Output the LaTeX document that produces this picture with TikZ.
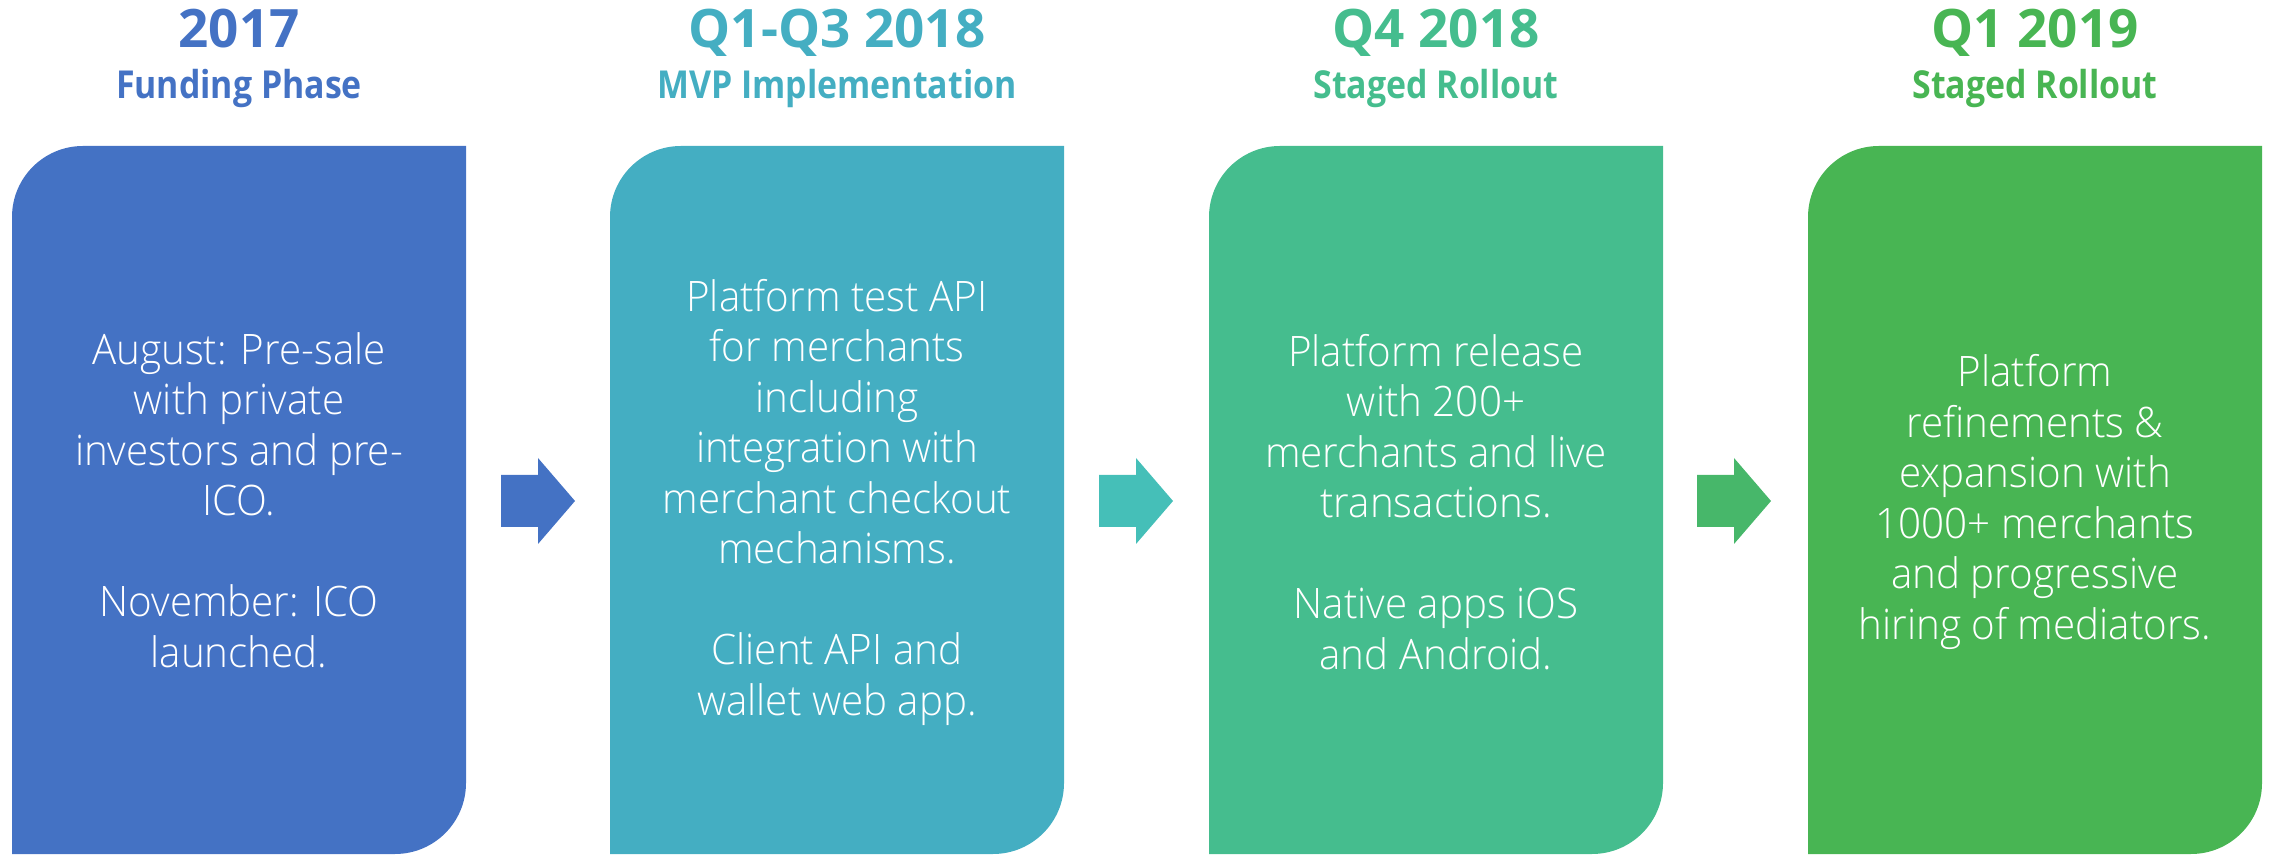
\documentclass[tikz,border=0pt]{standalone}
\usepackage{fontspec}
\setmainfont{Open Sans}
\newfontfamily\bodyfont{Open Sans}[UprightFont=* Light, FakeStretch=0.96]
\newfontfamily\yearfont{Open Sans}
\newfontfamily\subfont{Open Sans}[FakeStretch=0.88]
\definecolor{cA}{HTML}{4472C4}
\definecolor{cB}{HTML}{44AEC2}
\definecolor{cC}{HTML}{45BD8E}
\definecolor{cD}{HTML}{48B553}
\definecolor{aB}{HTML}{45BFB8}
\definecolor{aC}{HTML}{47B76A}
\tikzset{
  year/.style={font=\yearfont\bfseries\fontsize{53}{60}\selectfont, anchor=base, inner sep=0pt},
  sub/.style={font=\subfont\bfseries\fontsize{38.5}{44}\selectfont, anchor=base, inner sep=0pt},
  body/.style={font=\bodyfont\fontsize{42}{50.5}\selectfont, text=white, align=center, inner sep=0pt, anchor=center}
}
\begin{document}
\begin{tikzpicture}[x=1pt,y=1pt]
\useasboundingbox (0,0) rectangle (2272,854);
% boxes
\foreach \x/\c in {12/cA,610/cB,1209/cC,1808/cD}{
  \fill[\c] (\x,0) -- (\x,637) arc[start angle=180,end angle=90,radius=71]
    -- ({\x+454},708) -- ({\x+454},71) arc[start angle=0,end angle=-90,radius=71] -- cycle;
}
% block arrows
\foreach \x/\c in {501/cA,1099/aB,1697/aC}{
  \fill[\c] (\x,379) -- ({\x+37},379) -- ({\x+37},396) -- ({\x+74},353)
    -- ({\x+37},310) -- ({\x+37},327) -- (\x,327) -- cycle;
}
% headings
\node[year, text=cA] (h1) at (239,806) {2017};
\node[sub, text=cA] (s1) at (239,755) {Funding Phase};
\node[year, text=cB] (h2) at (837,806) {Q1-Q3 2018};
\node[sub, text=cB] (s2) at (837,755) {MVP Implementation};
\node[year, text=cC] (h3) at (1436,806) {Q4 2018};
\node[sub, text=cC] (s3) at (1436,755) {Staged Rollout};
\node[year, text=cD] (h4) at (2035,806) {Q1 2019};
\node[sub, text=cD] (s4) at (2035,755) {Staged Rollout};
% body texts
\node[body] (t1) at (239,354) {August: Pre-sale\\with private\\investors and pre-\\ICO.\\[50.5pt]November: ICO\\launched.};
\node[body] (t2) at (837,352) {Platform test API\\for merchants\\including\\integration with\\merchant checkout\\mechanisms.\\[50.5pt]Client API and\\wallet web app.};
\node[body] (t3) at (1436,352) {Platform release\\with 200+\\merchants and live\\transactions.\\[50.5pt]Native apps iOS\\and Android.};
\node[body] (t4) at (2035,352) {Platform\\refinements \&\\expansion with\\1000+ merchants\\and progressive\\hiring of mediators.};
\end{tikzpicture}
\end{document}
